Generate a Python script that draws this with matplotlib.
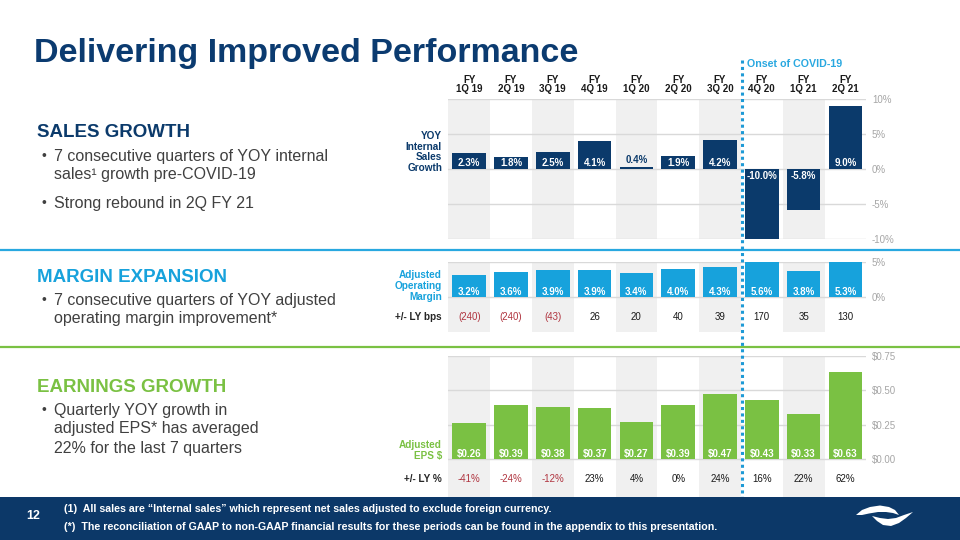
import matplotlib
matplotlib.use("Agg")
import matplotlib.pyplot as plt
from matplotlib.lines import Line2D
from matplotlib.patches import Rectangle, Polygon

# Chart data
quarters = ["1Q 19", "2Q 19", "3Q 19", "4Q 19", "1Q 20",
            "2Q 20", "3Q 20", "4Q 20", "1Q 21", "2Q 21"]
sales_growth = [2.3, 1.8, 2.5, 4.1, 0.4, 1.9, 4.2, -10.0, -5.8, 9.0]
op_margin = [3.2, 3.6, 3.9, 3.9, 3.4, 4.0, 4.3, 5.6, 3.8, 5.3]
margin_bps = [-240, -240, -43, 26, 20, 40, 39, 170, 35, 130]
eps = [0.26, 0.39, 0.38, 0.37, 0.27, 0.39, 0.47, 0.43, 0.33, 0.63]
eps_yoy = [-41, -24, -12, 23, 4, 0, 24, 16, 22, 62]

NAVY = "#0B3A6B"
LBLUE = "#17A2DC"
GREEN = "#7AC143"
GREY_BG = "#F0F0F0"
GRID = "#D9D9D9"
TICK = "#A6A6A6"
RED = "#B0343F"
TEXT = "#404040"

plt.rcParams["font.family"] = ["Liberation Sans", "DejaVu Sans"]

W, H = 960, 540
fig = plt.figure(figsize=(9.6, 5.4), dpi=100)


def fx(x):
    return x / W


def fy(y):
    return 1 - y / H


def make_axes(top, bottom, ylim, ticks, ticklabels):
    left, right = 448.3, 866.3
    ax = fig.add_axes([fx(left), fy(bottom), (right - left) / W, (bottom - top) / H])
    ax.set_xlim(-0.5, len(quarters) - 0.5)
    ax.set_ylim(*ylim)
    for i in range(0, len(quarters), 2):
        ax.axvspan(i - 0.5, i + 0.5, color=GREY_BG, lw=0, zorder=0)
    for t in ticks:
        ax.axhline(t, color=GRID, lw=1, zorder=1)
    ax.set_xticks([])
    ax.yaxis.tick_right()
    ax.set_yticks(ticks)
    ax.set_yticklabels(ticklabels)
    ax.tick_params(axis="y", length=0, pad=4, labelsize=7, labelcolor=TICK)
    for s in ax.spines.values():
        s.set_visible(False)
    ax.patch.set_alpha(0)
    return ax


x = list(range(len(quarters)))

# --- Sales growth ---
ax1 = make_axes(99.3, 239.3, (-10, 10), [-10, -5, 0, 5, 10],
                ["-10%", "-5%", "0%", "5%", "10%"])
ax1.bar(x, sales_growth, width=0.8, color=NAVY, zorder=2)
for i, v in enumerate(sales_growth):
    if v < 0:
        ax1.text(i, -1.0, f"{v:.1f}%", ha="center", va="center", color="white",
                 fontsize=7, fontweight="bold", zorder=3)
    elif v < 1:
        ax1.text(i, v + 0.2, f"{v:.1f}%", ha="center", va="bottom", color=NAVY,
                 fontsize=7, fontweight="bold", zorder=3)
    else:
        ax1.text(i, 0.9, f"{v:.1f}%", ha="center", va="center", color="white",
                 fontsize=7, fontweight="bold", zorder=3)
for i, q in enumerate(quarters):
    ax1.annotate(f"FY\n{q}", xy=(i, 10), xytext=(0, 3.5), textcoords="offset points",
                 ha="center", va="bottom", fontsize=7, fontweight="bold",
                 color="#1A1A1A", linespacing=0.95, annotation_clip=False)

# --- Operating margin ---
ax2 = make_axes(262.3, 332.3, (-5, 5), [0, 5], ["0%", "5%"])
ax2.bar(x, op_margin, width=0.8, color=LBLUE, zorder=2)
for i, v in enumerate(op_margin):
    ax2.text(i, 0.8, f"{v:.1f}%", ha="center", va="center", color="white",
             fontsize=7, fontweight="bold", zorder=3)
for i, v in enumerate(margin_bps):
    lbl = f"({abs(v)})" if v < 0 else f"{v}"
    ax2.text(i, -2.75, lbl, ha="center", va="center", fontsize=7,
             color=RED if v < 0 else "#1A1A1A")

# --- EPS ---
ax3 = make_axes(355.7, 497.0, (-0.273, 0.75), [0, 0.25, 0.5, 0.75],
                ["$0.00", "$0.25", "$0.50", "$0.75"])
ax3.bar(x, eps, width=0.8, color=GREEN, zorder=2)
for i, v in enumerate(eps):
    ax3.text(i, 0.038, f"${v:.2f}", ha="center", va="center", color="white",
             fontsize=7, fontweight="bold", zorder=3)
for i, v in enumerate(eps_yoy):
    ax3.text(i, -0.143, f"{v}%", ha="center", va="center", fontsize=7,
             color=RED if v < 0 else "#1A1A1A")

# --- row labels ---
fig.text(fx(442), fy(152), "YOY\nInternal\nSales\nGrowth", ha="right", va="center",
         fontsize=7.2, fontweight="bold", color=NAVY, linespacing=1.1)
fig.text(fx(442), fy(286), "Adjusted\nOperating\nMargin", ha="right", va="center",
         fontsize=7.2, fontweight="bold", color=LBLUE, linespacing=1.1)
fig.text(fx(442), fy(316.7), "+/- LY bps", ha="right", va="center",
         fontsize=7.2, fontweight="bold", color="#262626")
fig.text(fx(442), fy(450.5), "Adjusted\nEPS $", ha="right", va="center",
         fontsize=7.2, fontweight="bold", color=GREEN, linespacing=1.1)
fig.text(fx(442), fy(479), "+/- LY %", ha="right", va="center",
         fontsize=7.2, fontweight="bold", color="#262626")

# --- title and left text ---
fig.text(fx(34), fy(62), "Delivering Improved Performance", ha="left", va="baseline",
         fontsize=24.5, fontweight="bold", color="#0B3B70")

sections = [
    ("SALES GROWTH", NAVY, 133,
     [(156, True, "7 consecutive quarters of YOY internal"),
      (175, False, "sales\u00b9 growth pre-COVID-19"),
      (203, True, "Strong rebound in 2Q FY 21")]),
    ("MARGIN EXPANSION", LBLUE, 277,
     [(300, True, "7 consecutive quarters of YOY adjusted"),
      (319, False, "operating margin improvement*")]),
    ("EARNINGS GROWTH", GREEN, 388,
     [(410, True, "Quarterly YOY growth in"),
      (429, False, "adjusted EPS* has averaged"),
      (448, False, "22% for the last 7 quarters")]),
]
for head, col, hy, lines in sections:
    fig.text(fx(37), fy(hy), head, ha="left", va="center", fontsize=13.5,
             fontweight="bold", color=col)
    for ly, bullet, txt in lines:
        if bullet:
            fig.text(fx(41), fy(ly), "\u2022", ha="left", va="center",
                     fontsize=10, color=TEXT)
        fig.text(fx(54), fy(ly), txt, ha="left", va="center", fontsize=11.5, color=TEXT)

# --- separators ---
fig.add_artist(Line2D([0, 1], [fy(250), fy(250)], transform=fig.transFigure,
                      color="#29A8E0", lw=1.6))
fig.add_artist(Line2D([0, 1], [fy(346.5), fy(346.5)], transform=fig.transFigure,
                      color=GREEN, lw=1.6))

# --- footer ---
fig.add_artist(Rectangle((0, 0), 1, fy(497), transform=fig.transFigure,
                         color="#0C3868", lw=0, zorder=5))
fig.text(fx(33), fy(516), "12", ha="center", va="center", fontsize=9,
         fontweight="bold", color="white", zorder=6)
fig.text(fx(64), fy(509),
         "(1)  All sales are \u201cInternal sales\u201d which represent net sales "
         "adjusted to exclude foreign currency.",
         ha="left", va="center", fontsize=7.7, fontweight="bold", color="white", zorder=6)
fig.text(fx(64), fy(527),
         "(*)  The reconciliation of GAAP to non-GAAP financial results for these "
         "periods can be found in the appendix to this presentation.",
         ha="left", va="center", fontsize=7.7, fontweight="bold", color="white", zorder=6)

# logo: two white swooshes
upper = [(856, 515), (862, 510), (870, 507), (880, 505.5), (889, 507), (895, 510),
         (899, 515), (893, 513), (886, 512), (878, 512), (869, 513.5), (862, 515)]
lower = [(872, 516), (877, 521), (883, 525), (891, 526), (899, 523), (906, 518),
         (913, 512), (904, 515), (896, 518), (888, 519), (880, 518)]
for pts in (upper, lower):
    fig.add_artist(Polygon([(fx(a), fy(b)) for a, b in pts], closed=True,
                           transform=fig.transFigure, color="white", lw=0, zorder=6))

# --- COVID onset marker ---
fig.add_artist(Line2D([fx(741.7), fx(741.7)], [fy(60), fy(497)], transform=fig.transFigure,
                      color="#1E9AD6", lw=2.2, linestyle=(0, (1, 1.1)),
                      dash_capstyle="butt", zorder=4))
fig.text(fx(747), fy(64), "Onset of COVID-19", ha="left", va="center", fontsize=7.7,
         fontweight="bold", color="#29A8E0")

fig.savefig("out.png", dpi=100)
